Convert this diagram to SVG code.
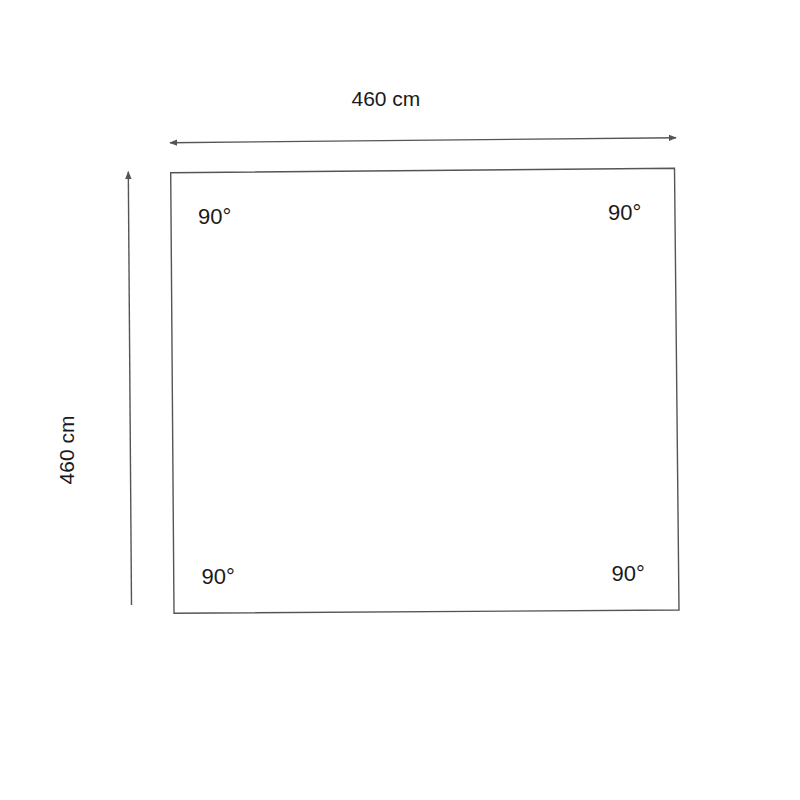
<svg xmlns="http://www.w3.org/2000/svg" width="800" height="800" viewBox="0 0 800 800">
<style>
.ln{stroke:#555;stroke-width:1.4;fill:none}
.t{font-family:"Liberation Sans",Arial,sans-serif;font-size:21px;fill:#1a1a1a}
.a{font-family:"Liberation Sans",Arial,sans-serif;font-size:22px;fill:#1a1a1a}
</style>
<defs>
<marker id="ah" viewBox="0 0 10 10" refX="9" refY="5" markerWidth="8" markerHeight="8" markerUnits="userSpaceOnUse" orient="auto-start-reverse">
<path d="M0,1 L10,5 L0,9 Z" fill="#555"/>
</marker>
</defs>
<rect width="800" height="800" fill="#fff"/>
<g id="connectors">
<line class="ln" x1="170" y1="142.7" x2="676" y2="137.7" marker-start="url(#ah)" marker-end="url(#ah)"/>
<line class="ln" x1="131.5" y1="605" x2="128.3" y2="171.7" marker-end="url(#ah)"/>
</g>
<g id="square">
<polygon class="ln" points="170.7,172.7 674.5,168.3 679,610 174,613.3"/>
</g>
<g id="labels">
<text class="t" x="351.5" y="106">460 cm</text>
<text class="t" transform="translate(73.5,450) rotate(-90)" text-anchor="middle">460 cm</text>
<text class="a" x="198" y="223.5">90°</text>
<text class="a" x="608" y="219.5">90°</text>
<text class="a" x="201.5" y="583.5">90°</text>
<text class="a" x="611.5" y="581">90°</text>
</g>
</svg>
